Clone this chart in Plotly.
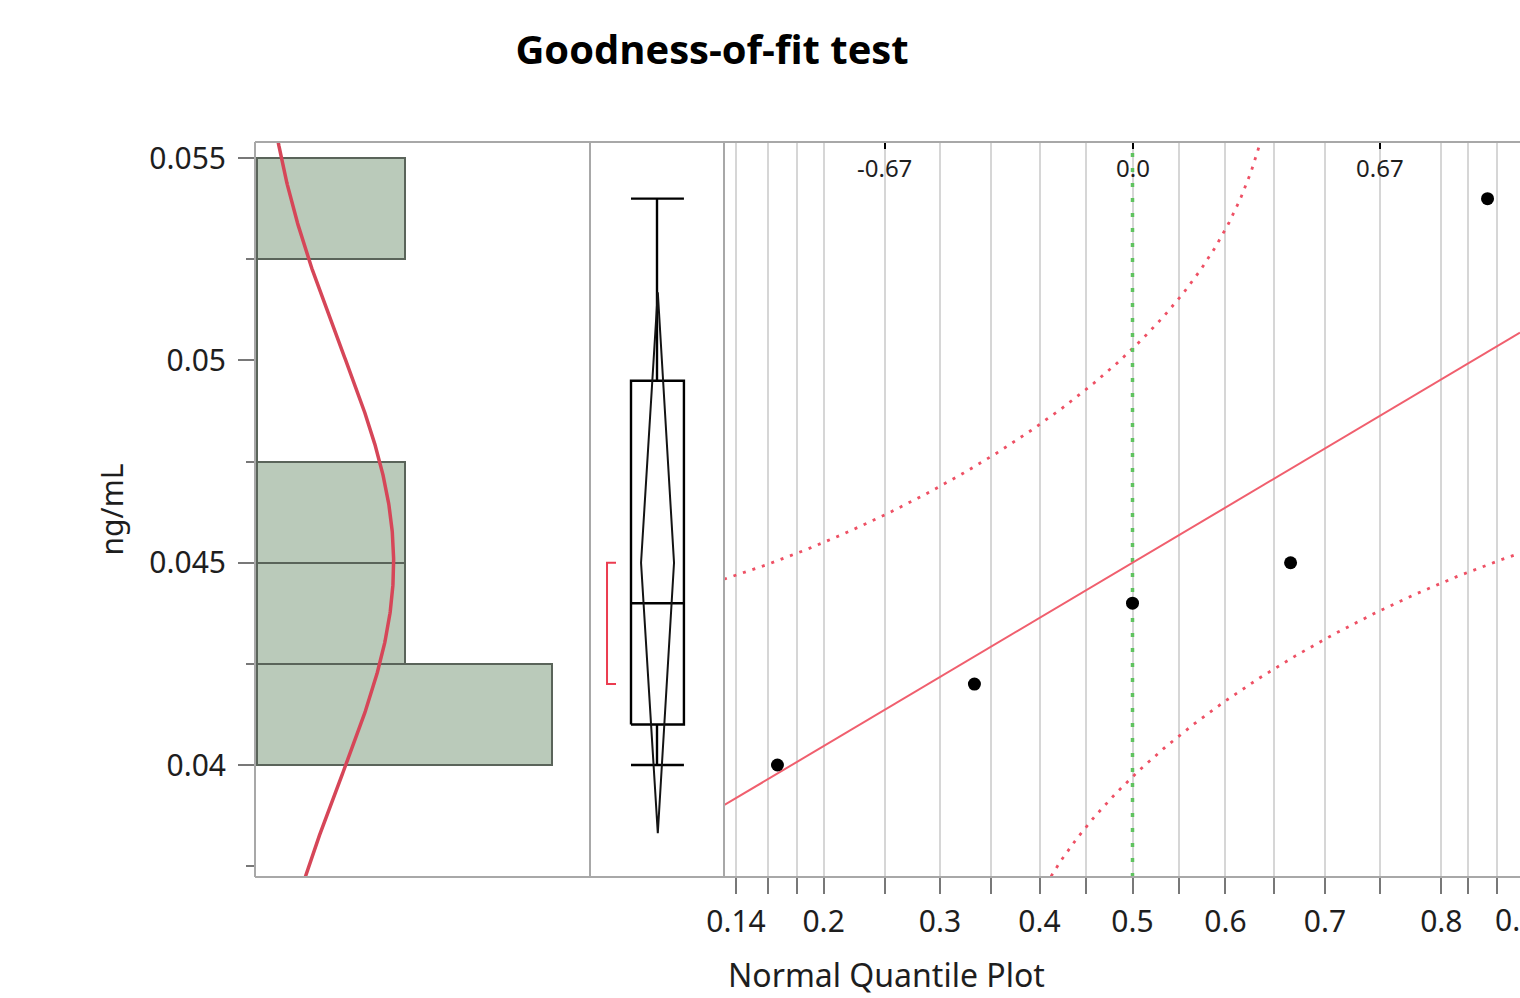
import numpy as np
import plotly.graph_objects as go
from statistics import NormalDist

W, H = 1520, 998

# ---------------- data ----------------
values = [0.040, 0.042, 0.044, 0.045, 0.054]          # ng/mL
bin_edges = [0.0400, 0.0425, 0.0450, 0.0475, 0.0500, 0.0525, 0.0550]
bin_counts = [2, 1, 1, 0, 0, 1]
y_ticks = [0.04, 0.045, 0.05, 0.055]
y_tick_labels = ["0.04", "0.045", "0.05", "0.055"]
prob_ticks = [0.14, 0.16, 0.18, 0.2, 0.25, 0.3, 0.35, 0.4, 0.45, 0.5,
              0.55, 0.6, 0.65, 0.7, 0.75, 0.8, 0.82, 0.84]
prob_labels = ["0.14", "", "", "0.2", "", "0.3", "", "0.4", "", "0.5",
               "", "0.6", "", "0.7", "", "0.8", "", ""]
edge_prob = 0.86
edge_prob_label = "0.86"
quartile_probs = [0.25, 0.5, 0.75]
quartile_labels = ["-0.67", "0.0", "0.67"]
shortest_half = [0.042, 0.045]
t_crit = 2.776          # t(0.975, 4)
lillie_D = 0.337        # Lilliefors critical value, n = 5

# ---------------- derived statistics ----------------
nd = NormalDist()
v = np.sort(np.array(values))
n = len(v)
mean = v.mean()
sd = v.std(ddof=1)
bw = bin_edges[1] - bin_edges[0]


def jmp_quantile(p):
    r = p * (n + 1)
    lo = int(np.floor(r))
    f = r - lo
    return v[lo - 1] + f * (v[lo] - v[lo - 1])


q1, med, q3 = jmp_quantile(0.25), float(np.median(v)), jmp_quantile(0.75)
ci = t_crit * sd / np.sqrt(n)

# ---------------- layout geometry ----------------
Y_RANGE = [0.037232, 0.05540]
Y_DOM = [121 / H, 856 / H]
X1_DOM = [255 / W, 590 / W]
X2_DOM = [590 / W, 724 / W]
X3_DOM = [724 / W, 1.0]
Z_RANGE = [-1.1131, 1.0559]
X1_RANGE = [-0.0136, 2.257]

RED = "rgb(214,70,88)"
LINE_RED = "rgb(240,95,110)"
GRID = "rgb(214,214,214)"
FRAME = "rgb(168,168,168)"
FONT = "Noto Sans"

fig = go.Figure()

# Histogram (horizontal)
centers = [(a + b) / 2 for a, b in zip(bin_edges[:-1], bin_edges[1:])]
fig.add_trace(go.Bar(
    y=centers, x=bin_counts, orientation="h", width=bw,
    marker=dict(color="rgb(186,202,186)", line=dict(color="rgb(90,100,90)", width=2)),
    xaxis="x", yaxis="y", showlegend=False, hoverinfo="skip"))

# Normal density curve
ys = np.linspace(Y_RANGE[0], Y_RANGE[1], 400)
dens = np.array([NormalDist(mean, sd).pdf(y) for y in ys]) * n * bw
fig.add_trace(go.Scatter(x=dens, y=ys, mode="lines",
                         line=dict(color=RED, width=3.5),
                         xaxis="x", yaxis="y", showlegend=False, hoverinfo="skip"))

# Box plot (outlier box) with means diamond, panel 2
BOXL, BOXR, CX = 0.306, 0.701, 0.50
box_x = [BOXL, BOXR, BOXR, BOXL, BOXL, None, BOXL, BOXR, None,
         CX, CX, None, CX, CX, None, BOXL, BOXR, None, BOXL, BOXR]
box_y = [q1, q1, q3, q3, q1, None, med, med, None,
         q3, v.max(), None, q1, v.min(), None, v.max(), v.max(), None, v.min(), v.min()]
fig.add_trace(go.Scatter(x=box_x, y=box_y, mode="lines",
                         line=dict(color="black", width=2.4),
                         xaxis="x2", yaxis="y", showlegend=False, hoverinfo="skip"))
DL, DR, DC = 0.381, 0.627, 0.506
fig.add_trace(go.Scatter(x=[DC, DR, DC, DL, DC], y=[mean + ci, mean, mean - ci, mean, mean + ci],
                         mode="lines", line=dict(color="rgb(20,20,20)", width=2),
                         xaxis="x2", yaxis="y", showlegend=False, hoverinfo="skip"))
# shortest half bracket
BX, BT = 0.127, 0.194
fig.add_trace(go.Scatter(x=[BT, BX, BX, BT], y=[shortest_half[1], shortest_half[1], shortest_half[0], shortest_half[0]],
                         mode="lines", line=dict(color="rgb(235,60,80)", width=2),
                         xaxis="x2", yaxis="y", showlegend=False, hoverinfo="skip"))

# Normal quantile plot, panel 3
zs = np.linspace(Z_RANGE[0], Z_RANGE[1], 600)
up_x, up_y, lo_x, lo_y = [], [], [], []
for z in zs:
    p = nd.cdf(z)
    if p + lillie_D < 0.99995:
        up_x.append(z); up_y.append(mean + sd * nd.inv_cdf(p + lillie_D))
    if p - lillie_D > 0.00005:
        lo_x.append(z); lo_y.append(mean + sd * nd.inv_cdf(p - lillie_D))
for bx, by in ((up_x, up_y), (lo_x, lo_y)):
    fig.add_trace(go.Scatter(x=bx, y=by, mode="lines",
                             line=dict(color="rgb(238,80,100)", width=2.8, dash="3px,7px"),
                             xaxis="x3", yaxis="y", showlegend=False, hoverinfo="skip"))
# zero (median) reference
fig.add_trace(go.Scatter(x=[0, 0], y=Y_RANGE, mode="lines",
                         line=dict(color="rgb(95,195,95)", width=3.5, dash="4px,11px"),
                         xaxis="x3", yaxis="y", showlegend=False, hoverinfo="skip"))
# fitted line
fig.add_trace(go.Scatter(x=Z_RANGE, y=[mean + sd * Z_RANGE[0], mean + sd * Z_RANGE[1]], mode="lines",
                         line=dict(color=LINE_RED, width=2),
                         xaxis="x3", yaxis="y", showlegend=False, hoverinfo="skip"))
# points (van der Waerden scores)
zq = [nd.inv_cdf(i / (n + 1)) for i in range(1, n + 1)]
fig.add_trace(go.Scatter(x=zq, y=v, mode="markers",
                         marker=dict(color="black", size=13),
                         xaxis="x3", yaxis="y", showlegend=False, hoverinfo="skip"))
# carrier for the top (normal quantile) axis
fig.add_trace(go.Scatter(x=Z_RANGE, y=[mean, mean], mode="lines", line=dict(width=0),
                         opacity=0, xaxis="x4", yaxis="y", showlegend=False, hoverinfo="skip"))

tick_font = dict(family=FONT, size=30, color="#1e1e1e")
fig.update_layout(
    width=W, height=H, margin=dict(l=0, r=0, t=0, b=0),
    paper_bgcolor="white", plot_bgcolor="white", bargap=0,
    title=dict(text="<b>Goodness-of-fit test</b>", x=712 / W, y=1 - 50 / H,
               xanchor="center", yanchor="middle", xref="paper", yref="paper",
               font=dict(family="Open Sans", size=40, color="black")),
    xaxis=dict(domain=X1_DOM, range=X1_RANGE, visible=False, anchor="y"),
    xaxis2=dict(domain=X2_DOM, range=[0, 1], visible=False, anchor="y"),
    xaxis3=dict(domain=X3_DOM, range=Z_RANGE, anchor="y",
                tickmode="array", tickvals=[nd.inv_cdf(p) for p in prob_ticks], ticktext=prob_labels,
                ticks="outside", ticklen=16, tickwidth=2, tickcolor="rgb(120,120,120)",
                showgrid=True, gridcolor=GRID, gridwidth=2, zeroline=False,
                showline=False, tickfont=tick_font, automargin=False, ticklabelstandoff=2),
    xaxis4=dict(overlaying="x3", side="top", anchor="y", range=Z_RANGE,
                tickmode="array", tickvals=[nd.inv_cdf(p) for p in quartile_probs],
                showticklabels=False,
                ticks="inside", ticklen=7, tickwidth=2, tickcolor="black",
                showgrid=False, zeroline=False, showline=False, automargin=False),
    yaxis=dict(domain=Y_DOM, range=Y_RANGE, anchor="x",
               tickmode="array", tickvals=y_ticks, ticktext=y_tick_labels,
               ticks="outside", ticklen=16, tickwidth=2, tickcolor="rgb(120,120,120)",
               minor=dict(dtick=0.0025, tick0=0.0375, ticks="outside", ticklen=8,
                          tickwidth=2, tickcolor="rgb(120,120,120)", showgrid=False),
               showgrid=False, zeroline=False, showline=False,
               tickfont=tick_font, automargin=False, ticklabelstandoff=6),
)

# quantile labels along the top of the normal quantile plot
for p, lab in zip(quartile_probs, quartile_labels):
    fig.add_annotation(text=lab, xref="x4", yref="paper", x=nd.inv_cdf(p), y=1 - 168 / H,
                       showarrow=False, xanchor="center", yanchor="middle",
                       font=dict(family=FONT, size=24, color="#1e1e1e"))

# frame lines
yb, yt = Y_DOM
frame = [
    (255 / W, yb, 1.0, yb), (255 / W, yt, 1.0, yt),
    (255 / W, yb, 255 / W, yt), (590 / W, yb, 590 / W, yt), (724 / W, yb, 724 / W, yt),
]
for x0, y0, x1, y1 in frame:
    fig.add_shape(type="line", xref="paper", yref="paper", x0=x0, y0=y0, x1=x1, y1=y1,
                  line=dict(color=FRAME, width=2), layer="above")

# axis titles
fig.add_annotation(text="ng/mL", xref="paper", yref="paper", x=111 / W, y=(yb + yt) / 2,
                   textangle=-90, showarrow=False, xanchor="center", yanchor="middle",
                   font=dict(family=FONT, size=30, color="#1e1e1e"))
fig.add_annotation(text="Normal Quantile Plot", xref="paper", yref="paper", x=726 / W, y=1 - 974 / H,
                   showarrow=False, xanchor="left", yanchor="middle",
                   font=dict(family=FONT, size=32, color="#1e1e1e"))
# edge probability label (partly outside the page, as in the reference)
edge_z = nd.inv_cdf(edge_prob)
edge_px = X3_DOM[0] + (edge_z - Z_RANGE[0]) / (Z_RANGE[1] - Z_RANGE[0]) * (X3_DOM[1] - X3_DOM[0])
fig.add_annotation(text=edge_prob_label, xref="paper", yref="paper", x=edge_px - 4 / W, y=1 - 919 / H,
                   showarrow=False, xanchor="center", yanchor="middle", font=tick_font)

fig.write_html("out.html")
